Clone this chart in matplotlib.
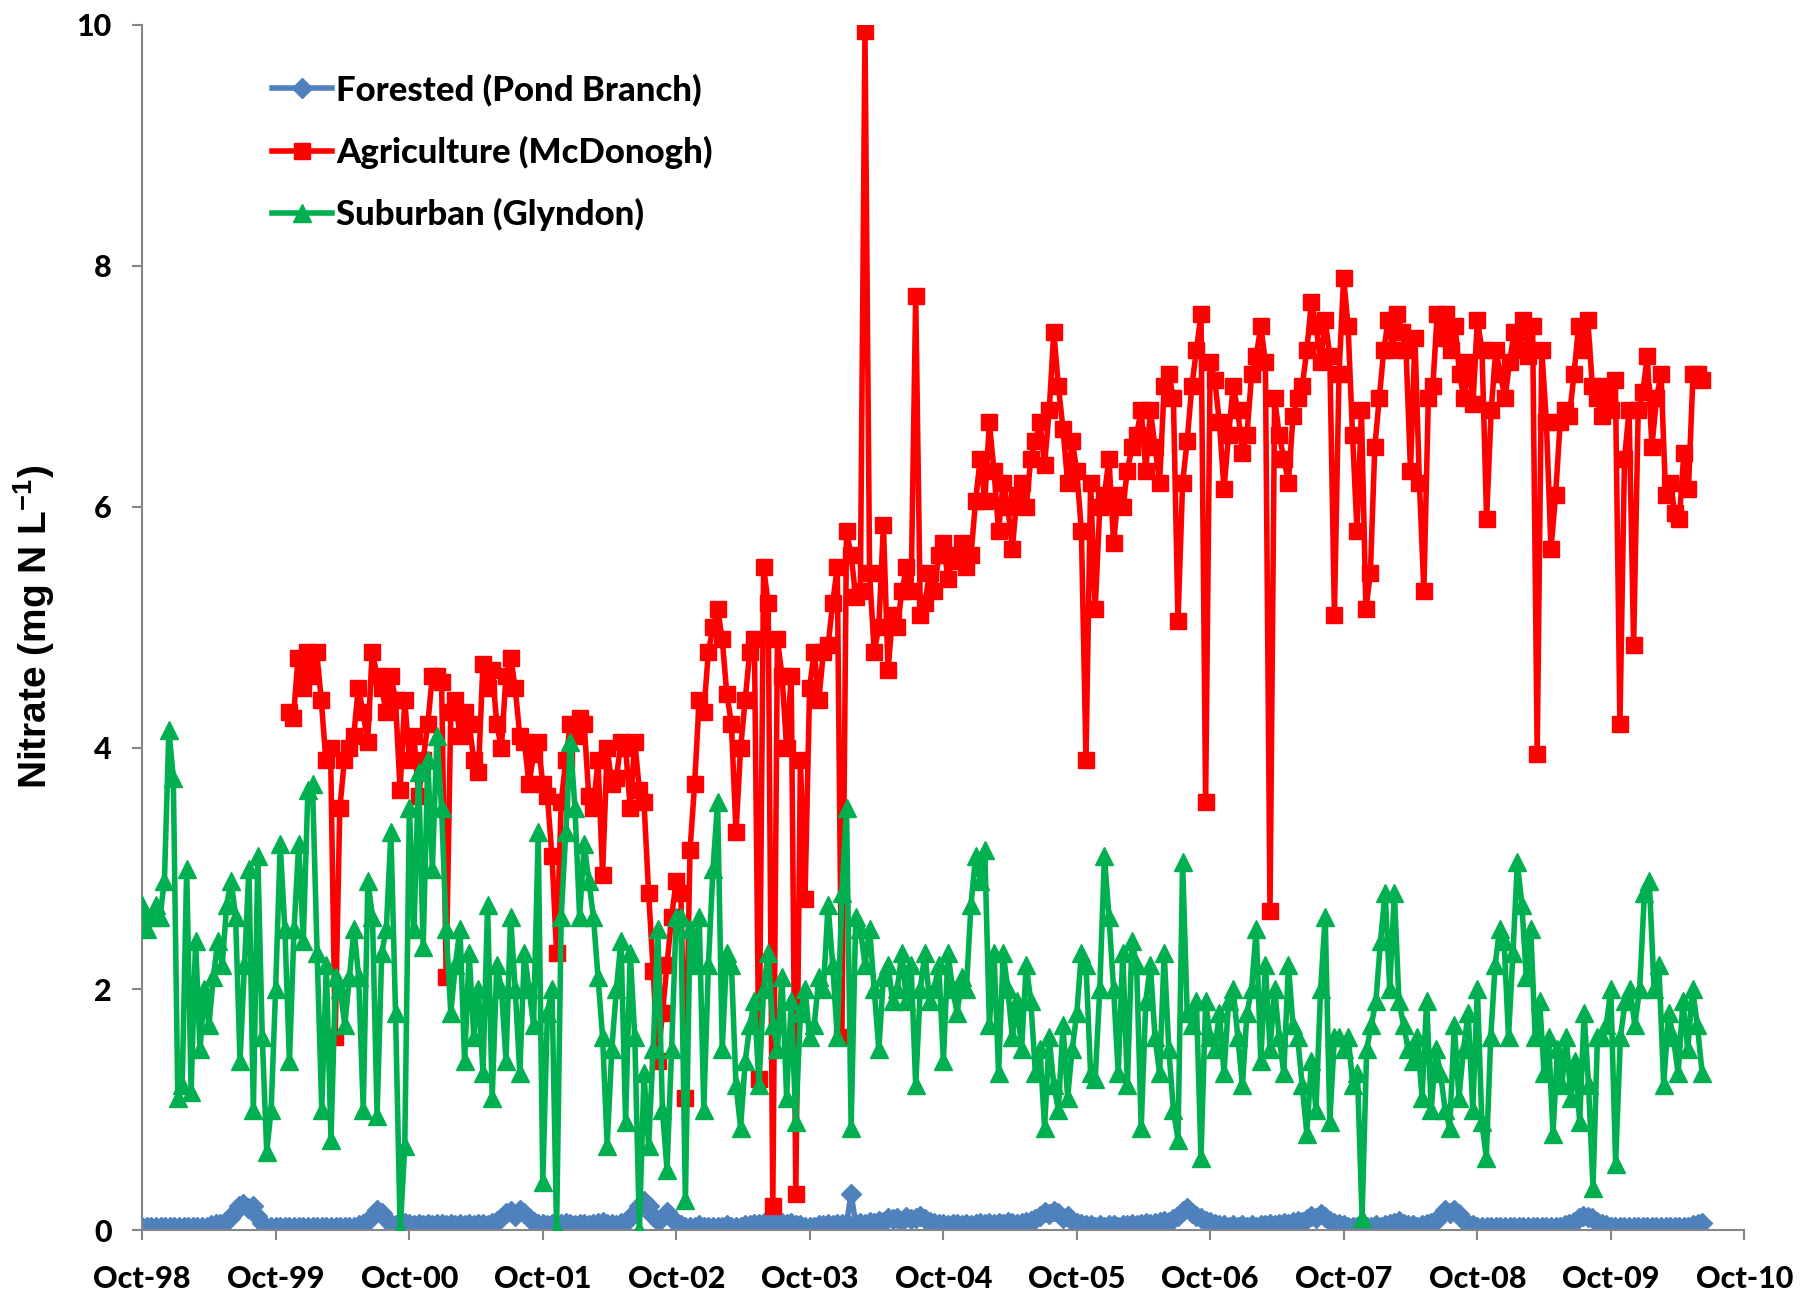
import numpy as np
import pandas as pd
import matplotlib
matplotlib.use("Agg")
import matplotlib.pyplot as plt
import matplotlib.dates as mdates

plt.rcParams['mathtext.fontset'] = 'custom'
plt.rcParams['mathtext.rm'] = 'Liberation Sans:bold'
plt.rcParams['mathtext.bf'] = 'Liberation Sans:bold'

# sampling blocks, one list per water year (Oct -> Sep)
wy_start = ['1998-10-01', '1999-10-01', '2000-10-01', '2001-10-01', '2002-10-01', '2003-10-01',
            '2004-10-01', '2005-10-01', '2006-10-01', '2007-10-01', '2008-10-01', '2009-10-01']
last_day = '2010-06-08'
red_first_day = '1999-11-06'

forest = [
    [0.03, 0.03, 0.03, 0.03, 0.03, 0.03, 0.03, 0.03, 0.03, 0.03, 0.03, 0.03, 0.03, 0.03, 0.03, 0.04, 0.05, 0.05, 0.07, 0.1, 0.14, 0.2, 0.22, 0.18, 0.2, 0.12, 0.06, 0.03, 0.03],
    [0.03, 0.03, 0.03, 0.03, 0.03, 0.03, 0.03, 0.03, 0.03, 0.03, 0.03, 0.03, 0.03, 0.03, 0.03, 0.03, 0.03, 0.03, 0.04, 0.05, 0.08, 0.12, 0.17, 0.14, 0.09, 0.05, 0.04, 0.05, 0.06],
    [0.05, 0.04, 0.05, 0.04, 0.05, 0.04, 0.05, 0.05, 0.04, 0.05, 0.04, 0.05, 0.04, 0.05, 0.04, 0.05, 0.05, 0.04, 0.06, 0.08, 0.1, 0.14, 0.16, 0.12, 0.17, 0.14, 0.1, 0.07, 0.05],
    [0.05, 0.04, 0.05, 0.04, 0.05, 0.06, 0.05, 0.04, 0.05, 0.05, 0.04, 0.05, 0.06, 0.07, 0.05, 0.05, 0.04, 0.06, 0.08, 0.1, 0.15, 0.2, 0.24, 0.2, 0.12, 0.08, 0.1, 0.15, 0.1],
    [0.06, 0.04, 0.03, 0.03, 0.03, 0.04, 0.03, 0.03, 0.03, 0.03, 0.03, 0.04, 0.03, 0.03, 0.03, 0.04, 0.04, 0.05, 0.05, 0.06, 0.05, 0.06, 0.07, 0.06, 0.05, 0.06, 0.04, 0.04, 0.03],
    [0.03, 0.03, 0.04, 0.04, 0.05, 0.04, 0.05, 0.05, 0.06, 0.3, 0.05, 0.06, 0.05, 0.07, 0.06, 0.08, 0.07, 0.1, 0.09, 0.1, 0.08, 0.11, 0.09, 0.1, 0.12, 0.09, 0.07, 0.06, 0.05],
    [0.05, 0.04, 0.05, 0.05, 0.04, 0.05, 0.04, 0.05, 0.06, 0.05, 0.06, 0.05, 0.06, 0.05, 0.07, 0.06, 0.05, 0.06, 0.07, 0.08, 0.09, 0.12, 0.15, 0.13, 0.16, 0.14, 0.1, 0.12, 0.08],
    [0.06, 0.05, 0.04, 0.04, 0.03, 0.04, 0.03, 0.04, 0.04, 0.03, 0.04, 0.04, 0.05, 0.04, 0.05, 0.06, 0.05, 0.06, 0.07, 0.08, 0.07, 0.09, 0.12, 0.16, 0.18, 0.14, 0.12, 0.1, 0.08],
    [0.07, 0.05, 0.04, 0.04, 0.03, 0.04, 0.03, 0.04, 0.03, 0.04, 0.03, 0.04, 0.04, 0.05, 0.04, 0.05, 0.06, 0.05, 0.07, 0.08, 0.07, 0.09, 0.12, 0.1, 0.13, 0.11, 0.08, 0.06, 0.05],
    [0.04, 0.03, 0.03, 0.03, 0.03, 0.03, 0.03, 0.04, 0.03, 0.04, 0.05, 0.06, 0.08, 0.05, 0.04, 0.04, 0.03, 0.04, 0.05, 0.06, 0.08, 0.12, 0.17, 0.14, 0.17, 0.13, 0.08, 0.05, 0.04],
    [0.03, 0.03, 0.03, 0.03, 0.03, 0.03, 0.03, 0.03, 0.03, 0.03, 0.03, 0.03, 0.03, 0.03, 0.03, 0.03, 0.03, 0.03, 0.03, 0.04, 0.05, 0.07, 0.1, 0.12, 0.11, 0.1, 0.07, 0.05, 0.04],
    [0.03, 0.03, 0.03, 0.03, 0.03, 0.03, 0.03, 0.03, 0.03, 0.03, 0.03, 0.03, 0.03, 0.03, 0.03, 0.03, 0.03, 0.03, 0.04, 0.05, 0.06],
]

agri = [
    [4.3, 4.25, 4.75, 4.5, 4.8, 4.6, 4.8, 4.4, 3.9, 4.0, 1.6, 3.5, 3.9, 4.0, 4.1, 4.5, 4.3, 4.05, 4.8, 4.6, 4.5, 4.3, 4.6, 4.4, 3.65, 4.4],
    [3.9, 4.1, 3.6, 3.9, 4.2, 4.6, 4.6, 4.55, 2.1, 4.3, 4.4, 4.1, 4.3, 4.2, 3.9, 3.8, 4.7, 4.5, 4.65, 4.2, 4.0, 4.6, 4.75, 4.5, 4.1, 4.05, 3.7, 3.95, 4.05],
    [3.7, 3.6, 3.1, 2.3, 3.55, 3.9, 4.2, 4.1, 4.25, 4.2, 3.6, 3.5, 3.9, 2.95, 4.0, 3.7, 3.75, 4.05, 4.0, 3.5, 4.05, 3.65, 3.55, 2.8, 2.15, 1.4, 1.8, 2.2, 2.6],
    [2.9, 2.8, 1.1, 3.15, 3.7, 4.4, 4.3, 4.8, 5.0, 5.15, 4.9, 4.45, 4.2, 3.3, 4.0, 4.4, 4.8, 4.9, 1.25, 5.5, 5.2, 0.2, 4.9, 4.6, 4.0, 4.6, 0.3, 3.9, 2.75],
    [4.5, 4.8, 4.4, 4.8, 4.85, 5.2, 5.5, 1.6, 5.8, 5.6, 5.25, 5.3, 9.95, 5.45, 4.8, 5.0, 5.85, 4.65, 5.1, 5.0, 5.3, 5.5, 5.3, 7.75, 5.1, 5.2, 5.45, 5.3, 5.6],
    [5.7, 5.4, 5.6, 5.55, 5.7, 5.5, 5.6, 6.05, 6.4, 6.05, 6.7, 6.3, 5.8, 6.2, 6.0, 5.65, 6.1, 6.2, 6.0, 6.4, 6.55, 6.7, 6.35, 6.8, 7.45, 7.0, 6.65, 6.2, 6.55],
    [6.3, 5.8, 3.9, 6.2, 5.15, 6.0, 6.1, 6.4, 5.7, 6.1, 6.0, 6.3, 6.5, 6.6, 6.8, 6.3, 6.8, 6.5, 6.2, 7.0, 7.1, 6.9, 5.05, 6.2, 6.55, 7.0, 7.3, 7.6, 3.55],
    [7.2, 7.05, 6.7, 6.15, 6.6, 7.0, 6.8, 6.45, 6.6, 7.1, 7.25, 7.5, 7.2, 2.65, 6.9, 6.6, 6.4, 6.2, 6.75, 6.9, 7.0, 7.3, 7.7, 7.5, 7.2, 7.55, 7.25, 5.1, 7.1],
    [7.9, 7.5, 6.6, 5.8, 6.8, 5.15, 5.45, 6.5, 6.9, 7.3, 7.55, 7.3, 7.6, 7.45, 7.3, 6.3, 7.4, 6.2, 5.3, 6.9, 7.0, 7.6, 7.4, 7.6, 7.3, 7.5, 7.1, 6.9, 7.2, 6.85],
    [7.55, 7.3, 5.9, 6.8, 7.3, 7.1, 6.9, 7.2, 7.45, 7.3, 7.55, 7.25, 7.5, 3.95, 7.3, 6.7, 5.65, 6.1, 6.7, 6.8, 6.75, 7.1, 7.5, 7.3, 7.55, 7.0, 6.9, 6.75, 7.0],
    [6.8, 7.05, 4.2, 6.4, 6.8, 4.85, 6.8, 6.95, 7.25, 6.5, 6.9, 7.1, 6.1, 6.2, 5.95, 5.9, 6.45, 6.15, 7.1, 7.1, 7.05],
]

suburb = [
    [2.7, 2.5, 2.6, 2.7, 2.6, 2.9, 4.15, 3.75, 1.1, 1.2, 3.0, 1.15, 2.4, 1.5, 2.0, 1.7, 2.1, 2.4, 2.2, 2.7, 2.9, 2.6, 1.4, 2.2, 3.0, 1.0, 3.1, 1.6, 0.65, 1.0],
    [2.0, 3.2, 2.5, 1.4, 2.5, 3.2, 2.4, 3.65, 3.7, 2.3, 1.0, 2.2, 0.75, 2.1, 2.0, 1.7, 2.1, 2.5, 2.1, 1.0, 2.9, 2.6, 0.95, 2.3, 2.5, 3.3, 1.8, 0.0, 0.7],
    [3.5, 2.5, 3.8, 2.35, 3.9, 3.0, 4.1, 3.5, 2.5, 1.8, 2.2, 2.5, 1.4, 2.3, 1.6, 2.0, 1.3, 2.7, 1.1, 2.2, 2.0, 1.4, 2.6, 2.0, 1.3, 2.3, 2.0, 1.7, 3.3],
    [0.4, 1.8, 2.0, 0.0, 2.6, 3.3, 4.05, 3.5, 2.6, 3.2, 2.9, 2.6, 2.1, 1.6, 0.7, 1.5, 2.0, 2.4, 0.9, 2.3, 1.6, 0.0, 1.3, 0.7, 1.5, 2.5, 1.0, 0.5, 1.5],
    [2.6, 2.6, 0.25, 2.5, 2.2, 2.6, 1.0, 2.2, 3.0, 3.55, 1.5, 2.3, 2.2, 1.2, 0.85, 1.4, 1.7, 1.9, 1.2, 2.0, 2.3, 1.7, 1.5, 2.1, 1.1, 1.9, 0.9, 1.8, 2.0],
    [1.6, 1.7, 2.1, 2.0, 2.7, 2.2, 1.6, 2.8, 3.5, 0.85, 2.6, 2.5, 2.2, 2.5, 2.0, 1.5, 2.1, 2.2, 1.9, 2.0, 2.3, 1.9, 2.2, 1.2, 2.0, 2.3, 1.9, 2.0, 2.2],
    [1.4, 2.3, 2.0, 1.8, 2.1, 2.0, 2.7, 3.1, 2.9, 3.15, 1.7, 2.3, 1.3, 2.3, 2.0, 1.6, 1.9, 1.5, 2.2, 1.9, 1.3, 1.5, 0.85, 1.6, 1.2, 1.0, 1.7, 1.1, 1.5],
    [1.8, 2.3, 2.2, 1.3, 1.25, 2.0, 3.1, 2.6, 2.0, 1.3, 2.3, 1.2, 2.4, 2.2, 0.85, 1.9, 2.2, 1.6, 1.3, 2.3, 1.5, 1.0, 0.75, 3.05, 1.8, 1.7, 1.9, 0.6, 1.9],
    [1.6, 1.5, 1.8, 1.3, 1.9, 2.0, 1.6, 1.2, 1.8, 2.0, 2.5, 1.4, 2.2, 1.5, 2.0, 1.6, 1.3, 2.2, 1.7, 1.6, 1.2, 0.8, 1.4, 1.0, 2.0, 2.6, 0.9, 1.6, 1.6],
    [1.5, 1.6, 1.2, 1.3, 0.1, 1.5, 1.7, 1.9, 2.4, 2.8, 2.0, 2.8, 1.9, 1.7, 1.5, 1.4, 1.6, 1.1, 1.9, 1.0, 1.5, 1.3, 1.0, 0.85, 1.7, 1.1, 1.5, 1.8, 1.0],
    [2.0, 0.9, 0.6, 1.6, 2.2, 2.5, 2.4, 1.6, 2.3, 3.05, 2.7, 2.1, 2.5, 1.6, 1.9, 1.3, 1.6, 0.8, 1.5, 1.2, 1.6, 1.1, 1.4, 0.9, 1.8, 1.2, 0.35, 1.6, 1.6, 1.7],
    [2.0, 0.55, 1.6, 1.9, 2.0, 1.7, 2.0, 2.8, 2.9, 2.0, 2.2, 1.2, 1.8, 1.6, 1.3, 1.9, 1.5, 2.0, 1.7, 1.3],
]


def block_dates(starts, blocks, end):
    # spread each water-year block over its own year
    starts = [pd.Timestamp(s) for s in starts]
    out = []
    for k, vals in enumerate(blocks):
        n = len(vals)
        t0 = starts[k]
        if k < len(blocks) - 1:
            t1 = starts[k + 1]
            out += [t0 + (t1 - t0) * (i / n) for i in range(n)]
        else:
            t1 = pd.Timestamp(end)
            out += [t0 + (t1 - t0) * (i / (n - 1)) for i in range(n)]
    return out


f_x = block_dates(wy_start, forest, last_day)
f_y = sum(forest, [])
a_x = block_dates([red_first_day] + wy_start[2:], agri, last_day)
a_y = sum(agri, [])
s_x = block_dates(wy_start, suburb, last_day)
s_y = sum(suburb, [])

fig = plt.figure(figsize=(18, 12.99), dpi=100)
ax = fig.add_axes([0.079, 0.053, 0.890, 0.928])

ax.plot(f_x, f_y, color='#4F81BD', marker='D', ms=10, lw=4, label='Forested (Pond Branch)', zorder=2)
ax.plot(a_x, a_y, color='#FF0000', marker='s', ms=11, lw=4, label='Agriculture (McDonogh)', zorder=3)
ax.plot(s_x, s_y, color='#00B050', marker='^', ms=12.5, lw=4, label='Suburban (Glyndon)', zorder=4)

ax.set_xlim(pd.Timestamp('1998-10-01'), pd.Timestamp('2010-10-01'))
ax.set_ylim(0, 10)
ax.set_yticks([0, 2, 4, 6, 8, 10])
ax.xaxis.set_major_locator(mdates.YearLocator(base=1, month=10, day=1))
ax.xaxis.set_major_formatter(mdates.DateFormatter('%b-%y'))

for s in ['top', 'right']:
    ax.spines[s].set_visible(False)
for s in ['left', 'bottom']:
    ax.spines[s].set_color('#868686')
    ax.spines[s].set_linewidth(1.5)
ax.tick_params(axis='both', direction='out', length=7, width=1.5, color='#868686')
ax.tick_params(axis='x', pad=18)
ax.tick_params(axis='y', pad=15)
for lab in ax.get_xticklabels() + ax.get_yticklabels():
    lab.set_fontfamily('Lato')
    lab.set_fontweight(900)
    lab.set_fontsize(22)

ax.set_ylabel('Nitrate (mg N L$^{-1}$)', fontsize=28, fontweight='bold',
              family='Liberation Sans', labelpad=14)

leg = ax.legend(loc='upper left', bbox_to_anchor=(0.07, 0.974), frameon=False,
                prop={'family': 'Lato', 'weight': 900, 'size': 25},
                handlelength=1.75, handletextpad=0.1, labelspacing=0.85, borderpad=0)

fig.savefig('out.png', dpi=100)
